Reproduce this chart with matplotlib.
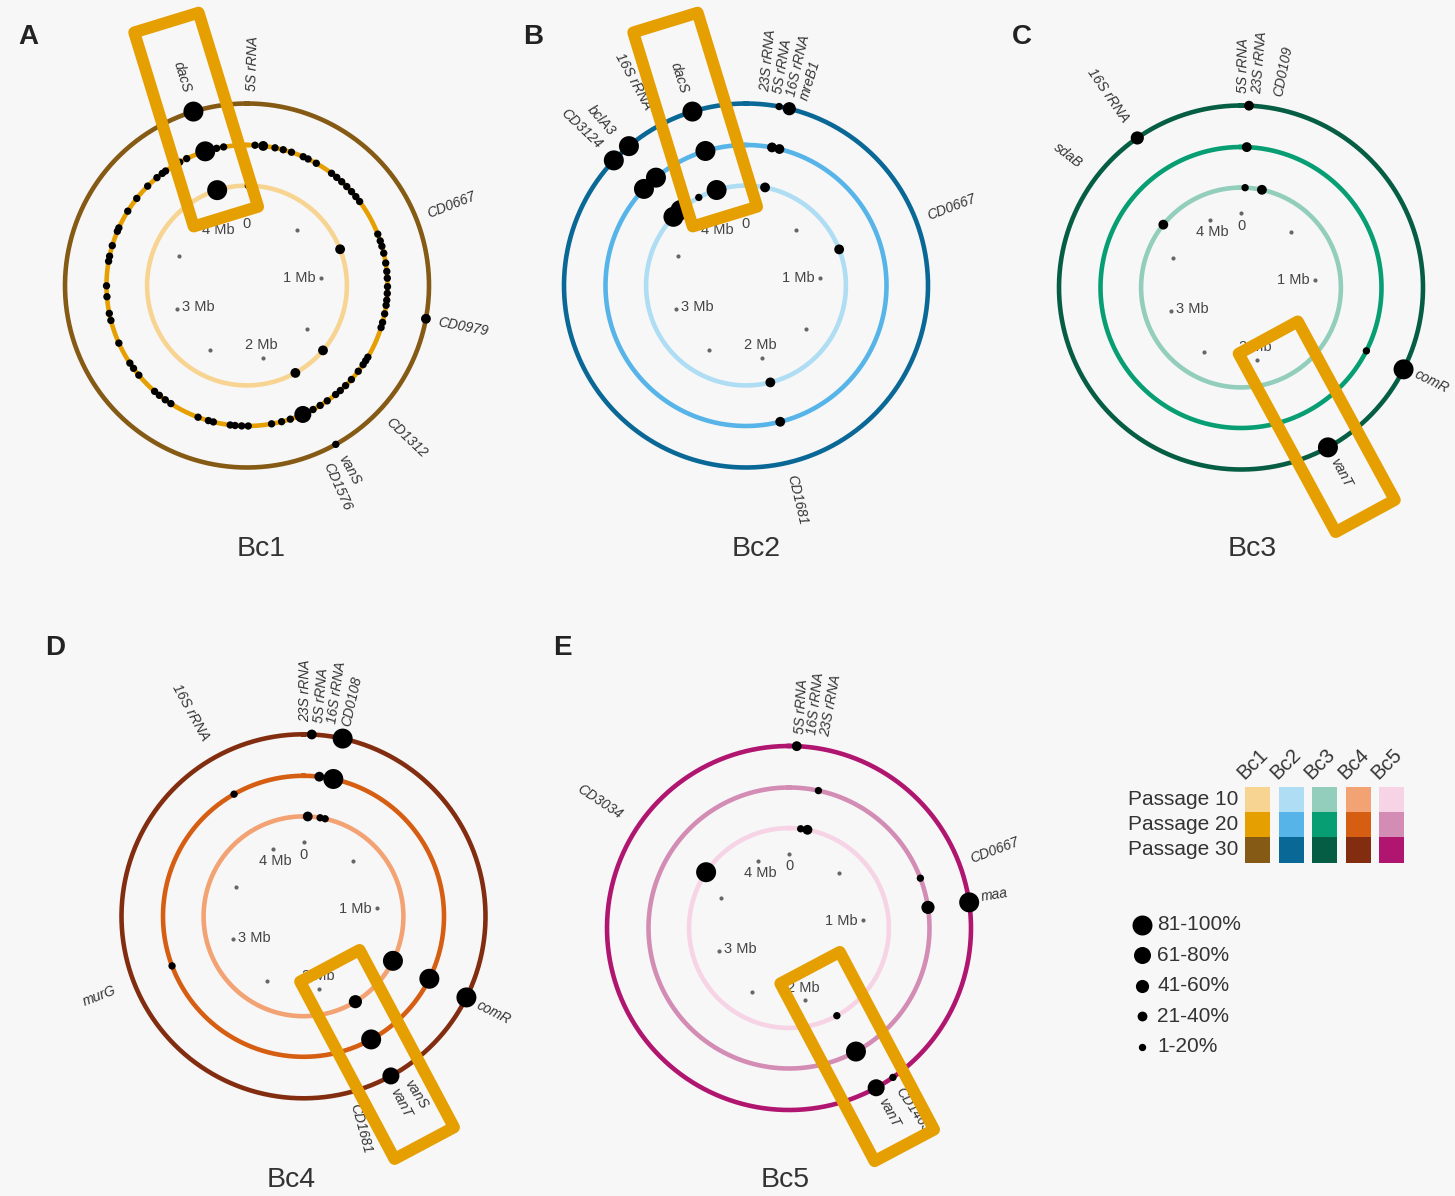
import numpy as np
import matplotlib
matplotlib.use("Agg")
import matplotlib.pyplot as plt
from matplotlib.patches import Polygon, Rectangle

plt.rcParams['font.family'] = ['Liberation Sans', 'DejaVu Sans']

GENOME_MB = 4.29  # C. difficile 630 genome length

# ---- legend / colour data ----
barcodes = ['Bc1', 'Bc2', 'Bc3', 'Bc4', 'Bc5']
passages = ['Passage 10', 'Passage 20', 'Passage 30']
pal_bc1 = ['#F7D491', '#E69F00', '#845A14']
pal_bc2 = ['#AEDDF4', '#56B4E9', '#0A6896']
pal_bc3 = ['#92CEBB', '#079E73', '#055E43']
pal_bc4 = ['#F3A273', '#D55E13', '#832D10']
pal_bc5 = ['#F6D4E6', '#D38CB4', '#B01670']
freq_labels = ['81-100%', '61-80%', '41-60%', '21-40%', '1-20%']
freq_bins = [5, 4, 3, 2, 1]

# genome ticks (Mb)
tick_dots = [0, 0.5, 1, 1.5, 2, 2.5, 3, 3.5, 4]
tick_pos = [0, 1, 2, 3, 4]
tick_labels = ['0', '1 Mb', '2 Mb', '3 Mb', '4 Mb']

# ---- mutations: position (Mb) and frequency bin (1 = 1-20% ... 5 = 81-100%) ----
A_p10_pos = [4.083, 0.009, 0.819, 1.555, 1.800]
A_p10_bin = [5, 1, 2, 2, 2]
A_p20_pos = [0.039, 0.079, 0.137, 0.178, 0.220, 0.281, 0.307, 0.352, 0.441, 0.473,
             0.505, 0.539, 0.573, 0.605, 0.635, 0.817, 0.852, 0.879, 0.914, 0.963,
             1.004, 1.037, 1.078, 1.111, 1.144, 1.169, 1.211, 1.254, 1.280, 1.438,
             1.458, 1.481, 1.521, 1.573, 1.614, 1.649, 1.679, 1.730, 1.771, 1.811,
             1.866, 1.931, 1.975, 2.025, 2.139, 2.171, 2.203, 2.227, 2.310, 2.335,
             2.388, 2.536, 2.569, 2.605, 2.635, 2.745, 2.787, 2.818, 2.929, 3.046,
             3.081, 3.163, 3.216, 3.336, 3.361, 3.414, 3.488, 3.506, 3.598, 3.674,
             3.754, 3.815, 3.848, 3.868, 3.949, 3.987, 4.084, 4.141, 4.176]
A_p20_bin = [1, 2, 1, 1, 1, 1, 1, 1, 1, 1,
             1, 1, 1, 1, 1, 1, 1, 1, 1, 1,
             1, 1, 1, 1, 1, 1, 1, 1, 1, 1,
             1, 1, 1, 1, 1, 1, 1, 1, 1, 1,
             4, 1, 1, 1, 1, 1, 1, 1, 1, 1,
             1, 1, 1, 1, 1, 1, 1, 1, 1, 1,
             1, 1, 1, 1, 1, 1, 1, 1, 1, 1,
             1, 1, 1, 1, 1, 1, 5, 1, 1]
A_p30_pos = [4.086, 1.198, 1.797]
A_p30_bin = [5, 2, 1]

B_p10_pos = [4.086, 3.954, 3.735, 3.802, 0.131, 0.820, 1.977]
B_p10_bin = [5, 1, 5, 5, 2, 2, 2]
B_p20_pos = [4.090, 0.127, 0.164, 3.815, 3.735, 1.977]
B_p20_bin = [5, 2, 2, 5, 5, 2]
B_p30_pos = [4.086, 0.125, 0.164, 3.813, 3.735]
B_p30_bin = [5, 1, 3, 5, 5]

C_p10_pos = [0.028, 0.144, 3.682]
C_p10_bin = [1, 2, 2]
C_p20_pos = [0.028, 1.392]
C_p20_bin = [2, 1]
C_p30_pos = [3.876, 0.030, 1.391, 1.805]
C_p30_bin = [3, 2, 5, 5]

D_p10_pos = [0.029, 0.114, 0.149, 1.388, 1.772]
D_p10_bin = [2, 1, 1, 5, 3]
D_p20_pos = [0.077, 0.146, 1.387, 1.802, 3.937, 2.971]
D_p20_bin = [2, 5, 5, 5, 1, 1]
D_p30_pos = [0.031, 0.148, 1.388, 1.803]
D_p30_bin = [2, 5, 5, 4]

E_p10_pos = [0.080, 0.127, 3.622, 1.804]
E_p10_bin = [1, 2, 5, 1]
E_p20_pos = [0.144, 0.825, 0.972, 1.806]
E_p20_bin = [1, 1, 3, 5]
E_p30_pos = [0.029, 0.976, 1.804, 1.730]
E_p30_bin = [2, 5, 4, 1]

# gene labels
A_genes = ['dacS', '5S rRNA', 'CD0667', 'CD0979', 'CD1312', 'vanS', 'CD1576']
A_gene_pos = [4.084, 0.019, 0.816, 1.202, 1.592, 1.800, 1.857]
B_genes = ['CD3124', 'bclA3', '16S rRNA', 'dacS', '23S rRNA', '5S rRNA', '16S rRNA', 'mreB1', 'CD0667', 'CD1681']
B_gene_pos = [3.737, 3.799, 3.946, 4.076, 0.067, 0.114, 0.158, 0.206, 0.823, 1.985]
C_genes = ['sdaB', '16S rRNA', '5S rRNA', '23S rRNA', 'CD0109', 'comR', 'vanT']
C_gene_pos = [3.663, 3.877, 0.008, 0.057, 0.132, 1.386, 1.808]
D_genes = ['murG', '16S rRNA', '23S rRNA', '5S rRNA', '16S rRNA', 'CD0108', 'comR', 'vanS', 'vanT', 'CD1681']
D_gene_pos = [2.964, 3.946, 0.004, 0.056, 0.101, 0.151, 1.392, 1.760, 1.817, 1.964]
E_genes = ['CD3034', '5S rRNA', '16S rRNA', '23S rRNA', 'CD0667', 'maa', 'CD1463', 'vanT']
E_gene_pos = [3.618, 0.038, 0.080, 0.126, 0.827, 0.965, 1.737, 1.807]

# highlighted region per panel: centre (Mb), inner / outer extent (rel. to outer ring)
A_box = (4.087, 0.396, 1.511)
B_box = (4.087, 0.396, 1.511)
C_box = (1.805, 0.313, 1.429)
D_box = (1.811, 0.308, 1.412)
E_box = (1.812, 0.247, 1.352)

# ---- layout ----
W, H = 1455, 1196
R_PX = 182.0
RMAX = 1.6
RINGS = [0.549, 0.772, 1.0]
R_TICK = 0.407
SIZES = {5: 207, 4: 150, 3: 90, 2: 50, 1: 28}
BOX_COL = '#E69F00'
TXT = '#333333'


def th(pos):
    return np.asarray(pos, dtype=float) / GENOME_MB * 2 * np.pi


def box_poly(pos, r0, r1, hw=0.185):
    t = pos / GENOME_MB * 2 * np.pi
    ux, uy = np.sin(t), np.cos(t)
    vx, vy = np.cos(t), -np.sin(t)
    pts = []
    for r, s in [(r0, 1), (r1, 1), (r1, -1), (r0, -1)]:
        x = r * ux + s * hw * vx
        y = r * uy + s * hw * vy
        pts.append((np.arctan2(x, y), np.hypot(x, y)))
    return pts


fig = plt.figure(figsize=(W / 100, H / 100), dpi=100, facecolor='#f7f7f7')

panels = [
    ('A', 'Bc1', (247, 285.5), pal_bc1, [(A_p10_pos, A_p10_bin), (A_p20_pos, A_p20_bin), (A_p30_pos, A_p30_bin)],
     A_genes, A_gene_pos, A_box, (28, 37), (261, 549)),
    ('B', 'Bc2', (746, 285.5), pal_bc2, [(B_p10_pos, B_p10_bin), (B_p20_pos, B_p20_bin), (B_p30_pos, B_p30_bin)],
     B_genes, B_gene_pos, B_box, (533, 37), (756, 549)),
    ('C', 'Bc3', (1241, 287.5), pal_bc3, [(C_p10_pos, C_p10_bin), (C_p20_pos, C_p20_bin), (C_p30_pos, C_p30_bin)],
     C_genes, C_gene_pos, C_box, (1022, 37), (1252, 549)),
    ('D', 'Bc4', (303.5, 916.3), pal_bc4, [(D_p10_pos, D_p10_bin), (D_p20_pos, D_p20_bin), (D_p30_pos, D_p30_bin)],
     D_genes, D_gene_pos, D_box, (55, 648), (291, 1180)),
    ('E', 'Bc5', (789, 928), pal_bc5, [(E_p10_pos, E_p10_bin), (E_p20_pos, E_p20_bin), (E_p30_pos, E_p30_bin)],
     E_genes, E_gene_pos, E_box, (562, 648), (785, 1180)),
]

ring_t = np.linspace(0, 2 * np.pi, 500)

for letter, title, (cx, cy), pal, series, genes, gpos, box, lpos, tpos in panels:
    S = R_PX * RMAX
    ax = fig.add_axes([(cx - S) / W, (H - cy - S) / H, 2 * S / W, 2 * S / H], projection='polar')
    ax.set_theta_zero_location('N')
    ax.set_theta_direction(-1)
    ax.set_ylim(0, RMAX)
    ax.set_axis_off()

    # passage rings + mutations
    for r, col, (pos, bins) in zip(RINGS, pal, series):
        ax.plot(ring_t, np.full_like(ring_t, r), color=col, lw=3.3, zorder=2, clip_on=False)
        ax.scatter(th(pos), np.full(len(pos), r), s=[SIZES[b] for b in bins],
                   color='black', linewidths=0, zorder=3, clip_on=False)

    # genome ticks
    ax.scatter(th(tick_dots), np.full(len(tick_dots), R_TICK), s=9, color='#666666',
               linewidths=0, zorder=3, clip_on=False)
    for p, lab in zip(tick_pos, tick_labels):
        t = th(p)
        dx, dy = -np.sin(t), -np.cos(t)
        ha = 'left' if dx > 0.5 else ('right' if dx < -0.5 else 'center')
        va = 'bottom' if dy > 0.5 else ('top' if dy < -0.5 else 'center')
        ax.annotate(lab, xy=(t, R_TICK), xytext=(dx * 4, dy * 4), textcoords='offset points',
                    ha=ha, va=va, fontsize=10.5, color='#444444', zorder=3)

    # gene labels
    for g, p in zip(genes, gpos):
        deg = p / GENOME_MB * 360
        if deg < 180:
            rot, ha, rr = 90 - deg, 'left', 1.07
        else:
            rot, ha, rr = 270 - deg, 'right', 1.11
        ax.text(th(p), rr, g, rotation=rot, rotation_mode='anchor', ha=ha, va='center',
                fontsize=10, style='italic', color=TXT, clip_on=False, zorder=4)

    # highlight box
    ax.add_patch(Polygon(box_poly(*box), closed=True, fill=False, ec=BOX_COL, lw=8.6,
                         joinstyle='round', transform=ax.transData, clip_on=False, zorder=6))

    fig.text(lpos[0] / W, 1 - lpos[1] / H, letter, ha='center', va='center',
             fontsize=20, fontweight='bold', color='#222222')
    fig.text(tpos[0] / W, 1 - tpos[1] / H, title, ha='center', va='center',
             fontsize=20.5, color=TXT)

# ---- legend ----
lg = fig.add_axes([1100 / W, 1 - 1080 / H, 355 / W, 350 / H])
lg.set_xlim(1100, 1455)
lg.set_ylim(1080, 730)
lg.set_axis_off()

pals = [pal_bc1, pal_bc2, pal_bc3, pal_bc4, pal_bc5]
for j, (bc, pal) in enumerate(zip(barcodes, pals)):
    x0 = 1245 + j * 33.6
    for i, col in enumerate(pal):
        lg.add_patch(Rectangle((x0, 786.7 + i * 25.3), 25, 25.3, color=col, lw=0))
    lg.text(x0 + 2, 783, bc, rotation=45, rotation_mode='anchor', ha='left', va='bottom',
            fontsize=14.5, color=TXT)
for i, ps in enumerate(passages):
    lg.text(1238, 799.3 + i * 25.3, ps, ha='right', va='center', fontsize=15, color=TXT)

for k, (lab, b) in enumerate(zip(freq_labels, freq_bins)):
    y = 925 + k * 30.4
    lg.scatter([1141.7], [y], s=SIZES[b], color='black', linewidths=0)
    lg.text(1157, y, lab, ha='left', va='center', fontsize=15, color=TXT)

fig.savefig('out.png', dpi=100, facecolor=fig.get_facecolor())
